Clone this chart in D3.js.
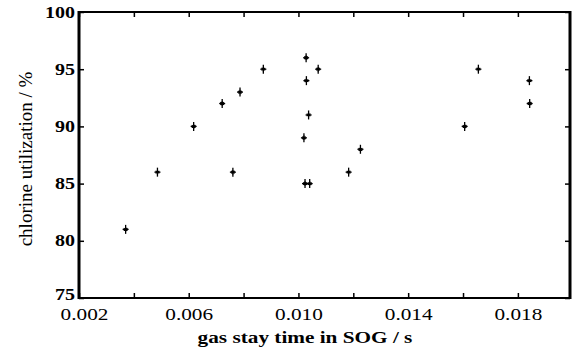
<!DOCTYPE html>
<html>
<head>
<meta charset="utf-8">
<script src="https://cdn.jsdelivr.net/npm/d3@7"></script>
<style>
  html, body { margin: 0; padding: 0; background: #fff; }
  svg { display: block; }
  text { font-family: 'Liberation Serif', 'Times New Roman', serif; fill: #000; }
</style>
</head>
<body>
<svg id="chart" width="575" height="351"></svg>
<script>
// gas stay time (s) and chlorine utilization (%)
var stayTime = [0.0037, 0.00486, 0.00618, 0.00722, 0.00761, 0.00787, 0.00872,
  0.01028, 0.01072, 0.01029, 0.01037, 0.0102, 0.01226, 0.01183, 0.01024, 0.01041,
  0.01656, 0.01842, 0.01843, 0.01606]
var utilization = [81, 86, 90, 92, 86, 93, 95,
  96, 95, 94, 91, 89, 88, 86, 85, 85,
  95, 94, 92, 90]

var xTicks = [0.002, 0.004, 0.006, 0.008, 0.010, 0.012, 0.014, 0.016, 0.018]
var xLabels = ['0.002', '0.006', '0.010', '0.014', '0.018']
var yTicks = [75, 80, 85, 90, 95, 100]

var svg = d3.select('#chart')
// note: "top" is taken by window.top, so use plot* names
var plotLeft = 79
var plotRight = 570
var plotTop = 12
var plotBottom = 298
var stretch = 1.25

var x = d3.scaleLinear().domain([0.002, 0.0199]).range([plotLeft, plotRight])
var y = d3.scaleLinear().domain([75, 100]).range([plotBottom, plotTop])

svg.append('rect').attr('width', 575).attr('height', 351).attr('fill', '#fff')

// bottom axis with labels
var xAxis = svg.append('g')
  .attr('transform', 'translate(0,' + plotBottom + ')')
  .call(d3.axisBottom(x)
    .tickValues(xTicks)
    .tickSizeInner(-5)
    .tickSizeOuter(0)
    .tickPadding(10)
    .tickFormat(function (d) {
      var s = d3.format('.3f')(d)
      return xLabels.indexOf(s) >= 0 ? s : ''
    }))
xAxis.select('.domain').remove()
xAxis.selectAll('line').attr('stroke', '#000').attr('stroke-width', 1.5)
xAxis.selectAll('text')
  .attr('font-size', 17)
  .attr('font-family', 'Liberation Serif')
  .attr('fill', '#000')
  .attr('transform', 'scale(' + stretch + ',1)')
// first label sits a little right of the corner, clear of "75"
xAxis.selectAll('text').filter(function (d) { return d === xTicks[0] })
  .attr('x', 5 / stretch)

// top ticks
var xTop = svg.append('g')
  .attr('transform', 'translate(0,' + plotTop + ')')
  .call(d3.axisTop(x).tickValues(xTicks).tickSizeInner(-5).tickSizeOuter(0).tickFormat(''))
xTop.select('.domain').remove()
xTop.selectAll('line').attr('stroke', '#000').attr('stroke-width', 1.5)

// left axis with labels
var yAxis = svg.append('g')
  .attr('transform', 'translate(' + plotLeft + ',0)')
  .call(d3.axisLeft(y)
    .tickValues(yTicks)
    .tickSizeInner(-5)
    .tickSizeOuter(0)
    .tickPadding(4)
    .tickFormat(d3.format('d')))
yAxis.select('.domain').remove()
yAxis.selectAll('line').attr('stroke', '#000').attr('stroke-width', 1.5)
yAxis.selectAll('text')
  .attr('font-size', 16)
  .attr('font-weight', 'bold')
  .attr('font-family', 'Liberation Serif')
  .attr('fill', '#000')
  .attr('x', -4 / stretch)
  .attr('transform', 'scale(' + stretch + ',1)')
yAxis.selectAll('text').filter(function (d) { return d === yTicks[0] })
  .attr('dy', '0.1em')

// right ticks
var yRight = svg.append('g')
  .attr('transform', 'translate(' + plotRight + ',0)')
  .call(d3.axisRight(y).tickValues(yTicks).tickSizeInner(-5).tickSizeOuter(0).tickFormat(''))
yRight.select('.domain').remove()
yRight.selectAll('line').attr('stroke', '#000').attr('stroke-width', 1.5)

// frame
svg.append('line').attr('x1', plotLeft).attr('x2', plotLeft).attr('y1', plotTop - 1).attr('y2', plotBottom + 1)
  .attr('stroke', '#000').attr('stroke-width', 3)
svg.append('line').attr('x1', plotRight).attr('x2', plotRight).attr('y1', plotTop - 1).attr('y2', plotBottom + 1)
  .attr('stroke', '#000').attr('stroke-width', 3)
svg.append('line').attr('x1', plotLeft).attr('x2', plotRight).attr('y1', plotTop).attr('y2', plotTop)
  .attr('stroke', '#000').attr('stroke-width', 2)
svg.append('line').attr('x1', plotLeft).attr('x2', plotRight).attr('y1', plotBottom).attr('y2', plotBottom)
  .attr('stroke', '#000').attr('stroke-width', 2)

// points: small asterisk with short vertical bar
var points = svg.append('g')
  .selectAll('g')
  .data(stayTime.map(function (t, i) { return { t: t, u: utilization[i] } }))
  .enter().append('g')
  .attr('transform', function (d) { return 'translate(' + x(d.t) + ',' + y(d.u) + ')' })
points.append('line').attr('y1', -4.5).attr('y2', 4.5)
  .attr('stroke', '#000').attr('stroke-width', 1.3)
points.append('line').attr('x1', -3).attr('x2', 3)
  .attr('stroke', '#000').attr('stroke-width', 1.3)
points.append('path')
  .attr('d', d3.symbol(d3.symbolAsterisk).size(14))
  .attr('stroke', '#000').attr('stroke-width', 1.2).attr('fill', 'none')

// axis titles
svg.append('text')
  .attr('transform', 'translate(305,343) scale(' + stretch + ',1)')
  .attr('text-anchor', 'middle')
  .attr('font-size', 17)
  .attr('font-weight', 'bold')
  .text('gas stay time in SOG / s')

svg.append('text')
  .attr('transform', 'translate(32,159) rotate(-90)')
  .attr('text-anchor', 'middle')
  .attr('font-size', 19)
  .text('chlorine utilization / %')
</script>
</body>
</html>
